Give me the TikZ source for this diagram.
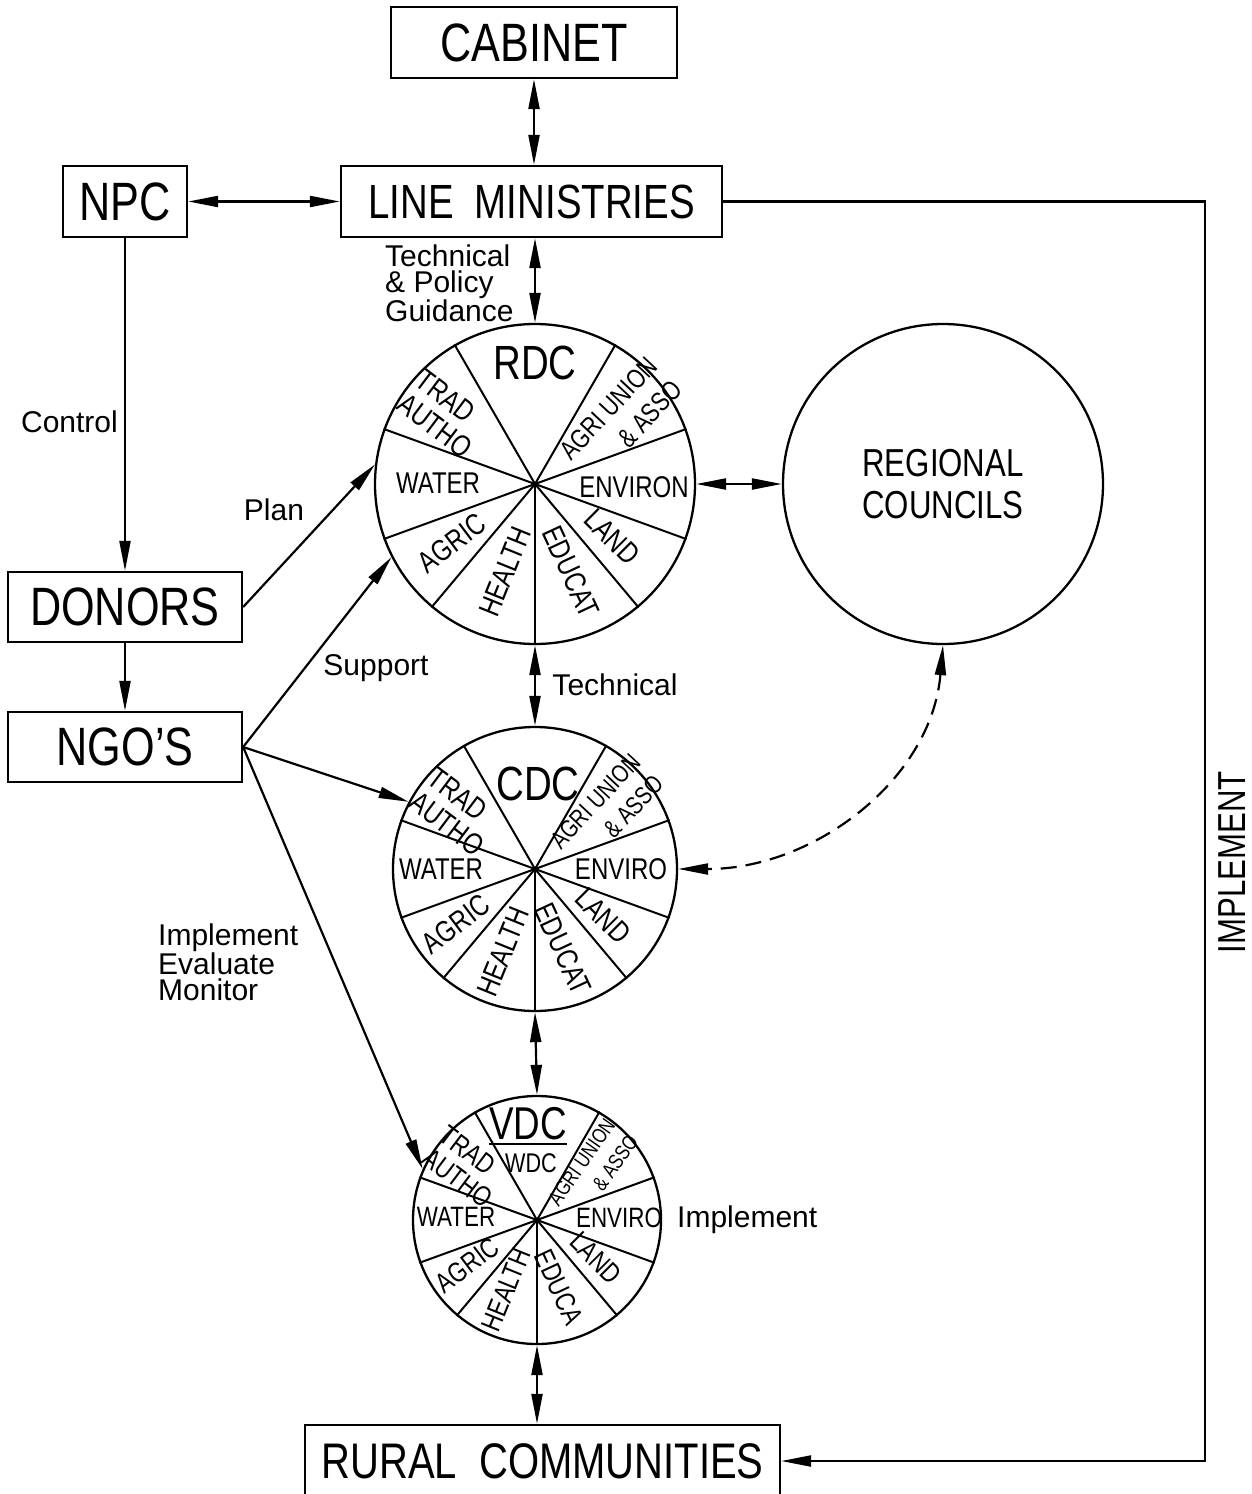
\documentclass[tikz,border=0pt]{standalone}
\usepackage{fontspec}
\setmainfont{Liberation Sans}
\newfontfamily\capfont{Liberation Sans}[FakeStretch=0.8]
\usetikzlibrary{arrows.meta}
\tikzset{
  box/.style={draw, line width=2.3pt, inner sep=0pt,
    font=\capfont\fontsize{54}{54}\selectfont},
  wheel/.style={draw, circle, line width=2.3pt, inner sep=0pt},
  spoke/.style={line width=2pt},
  sector/.style={inner sep=0pt, align=center,
    font=\capfont\fontsize{30}{30}\selectfont},
  small sector/.style={inner sep=0pt, align=center,
    font=\capfont\fontsize{28}{28}\selectfont},
  note/.style={inner sep=0pt, align=left, font=\fontsize{30}{26}\selectfont},
  link/.style={line width=2.2pt, -{Triangle[length=30pt,width=11pt]}},
  twoway/.style={line width=2.2pt,
    {Triangle[length=30pt,width=11pt]}-{Triangle[length=30pt,width=11pt]}}
}

\begin{document}
\begin{tikzpicture}[x=1pt,y=1pt]
  \useasboundingbox (0,0) rectangle (1252,-1494);

  % boxes
  \node[box, minimum width=286pt, minimum height=71pt] (cabinet) at (534,-42.5) {CABINET};
  \node[box, minimum width=124pt, minimum height=71pt] (npc) at (125,-201.5) {NPC};
  \node[box, minimum width=381pt, minimum height=71pt,
    font=\capfont\fontsize{48}{48}\selectfont] (lineministries) at (531.5,-201.5) {LINE\ \ MINISTRIES};
  \node[box, minimum width=234pt, minimum height=70pt] (donors) at (125,-607) {DONORS};
  \node[box, minimum width=234pt, minimum height=70pt] (ngos) at (125,-747) {NGO’S};
  \node[box, minimum width=475pt, minimum height=72pt,
    font=\capfont\fontsize{50}{50}\selectfont] (rural) at (542.5,-1461) {RURAL\ \ COMMUNITIES};

  % wheels
  \node[wheel, minimum size=320pt] (rdc) at (535,-484) {};
  \node[wheel, minimum size=284pt] (cdc) at (535,-869) {};
  \node[wheel, minimum size=248pt] (vdc) at (537,-1220) {};
  \node[wheel, minimum size=320pt, align=center,
    font=\capfont\fontsize{39}{42}\selectfont] (regional) at (943,-484) {REGIONAL\\COUNCILS};

  \foreach \w in {rdc,cdc,vdc}
    \foreach \a in {20,60,120,160,200,230,270,310,340}
      \draw[spoke] (\w.center) -- (\w.\a);

  % RDC sectors
  \node[sector, font=\capfont\fontsize{48}{48}\selectfont] (rdctitle) at ([shift={(0,121)}]rdc.center) {RDC};
  \node[sector, align=left, rotate=-37] (rdctrad) at ([shift={(-91,70)}]rdc.center) {TRAD\\AUTHO};
  \node[sector] (rdcwater) at ([shift={(-97,1)}]rdc.center) {WATER};
  \node[sector, rotate=37] (rdcagric) at ([shift={(-83,-59)}]rdc.center) {AGRIC};
  \node[sector, rotate=68] (rdchealth) at ([shift={(-30,-88)}]rdc.center) {HEALTH};
  \node[sector, rotate=-65] (rdceducat) at ([shift={(36,-88)}]rdc.center) {EDUCAT};
  \node[sector, rotate=-45] (rdcland) at ([shift={(77,-53)}]rdc.center) {LAND};
  \node[sector] (rdcenviron) at ([shift={(99,-3)}]rdc.center) {ENVIRON};
  \node[sector, align=right, rotate=47, font=\capfont\fontsize{27}{34}\selectfont]
    (rdcagri) at ([shift={(86,64)}]rdc.center) {AGRI UNION\\\& ASSO};

  % CDC sectors
  \node[sector, font=\capfont\fontsize{48}{48}\selectfont] (cdctitle) at ([shift={(3,85)}]cdc.center) {CDC};
  \node[sector, align=left, rotate=-37] (cdctrad) at ([shift={(-79,57)}]cdc.center) {TRAD\\AUTHO};
  \node[sector] (cdcwater) at ([shift={(-94,0)}]cdc.center) {WATER};
  \node[sector, rotate=37] (cdcagric) at ([shift={(-79,-55)}]cdc.center) {AGRIC};
  \node[sector, rotate=68] (cdchealth) at ([shift={(-32,-83)}]cdc.center) {HEALTH};
  \node[sector, rotate=-65] (cdceducat) at ([shift={(28,-80)}]cdc.center) {EDUCAT};
  \node[sector, rotate=-45] (cdcland) at ([shift={(68,-47)}]cdc.center) {LAND};
  \node[sector] (cdcenviro) at ([shift={(86,0)}]cdc.center) {ENVIRO};
  \node[sector, align=right, rotate=47, font=\capfont\fontsize{25}{32}\selectfont]
    (cdcagri) at ([shift={(72,57)}]cdc.center) {AGRI UNION\\\& ASSO};

  % VDC sectors
  \node[sector, font=\capfont\fontsize{46}{46}\selectfont] (vdctitle) at ([shift={(-9,96)}]vdc.center) {VDC};
  \node[sector, font=\capfont\fontsize{27}{27}\selectfont] (wdctitle) at ([shift={(-6,57)}]vdc.center) {WDC};
  \draw[line width=2pt] ([yshift=-4pt]vdctitle.south west) -- ([yshift=-4pt]vdctitle.south east);
  \node[small sector, align=left, rotate=-37] (vdctrad) at ([shift={(-71,53)}]vdc.center) {TRAD\\AUTHO};
  \node[small sector] (vdcwater) at ([shift={(-81,3)}]vdc.center) {WATER};
  \node[small sector, rotate=37] (vdcagric) at ([shift={(-70,-45)}]vdc.center) {AGRIC};
  \node[small sector, rotate=68] (vdchealth) at ([shift={(-31,-70)}]vdc.center) {HEALTH};
  \node[small sector, rotate=-65] (vdceduca) at ([shift={(22,-67)}]vdc.center) {EDUCA};
  \node[small sector, rotate=-45] (vdcland) at ([shift={(59,-38)}]vdc.center) {LAND};
  \node[small sector] (vdcenviro) at ([shift={(82,2)}]vdc.center) {ENVIRO};
  \node[small sector, align=right, rotate=55, font=\capfont\fontsize{21}{28}\selectfont]
    (vdcagri) at ([shift={(56,50)}]vdc.center) {AGRI UNION\\\& ASSO};

  % connectors
  \draw[twoway] (cabinet.south) -- (cabinet.south |- lineministries.north);
  \draw[twoway] (npc.east) -- (lineministries.west);
  \draw[twoway] (rdc.north |- lineministries.south) -- (rdc.north);
  \draw[link] (npc.south) -- (donors.north);
  \draw[link] (donors.south) -- (ngos.north);
  \draw[link] (donors.east) -- (rdc.173);
  \draw[link] (ngos.east) -- (rdc.207);
  \draw[link] (ngos.east) -- (cdc.152);
  \draw[link] (ngos.east) -- (vdc.156);
  \draw[twoway] (rdc.south) -- (cdc.north);
  \draw[twoway] (cdc.south) -- (vdc.north);
  \draw[twoway] (vdc.south) -- (vdc.south |- rural.north);
  \draw[twoway] (rdc.east) -- (regional.west);
  \draw[twoway, dash pattern=on 16pt off 9pt] (regional.south) to[out=-95,in=0] (cdc.east);
  \coordinate (bend) at (1205,-201.5);
  \draw[link] (lineministries.east) -- (bend) |- (rural.east);

  % labels
  \node[note, anchor=west] (guidance) at (385,-283) {Technical\\\& Policy\\Guidance};
  \node[note, anchor=east] (control) at (118,-422) {Control};
  \node[note] (plan) at (274,-510) {Plan};
  \node[note] (support) at (376,-668) {Support};
  \node[note] (technical) at (615,-685) {Technical};
  \node[note, anchor=west] (iem) at (158,-962) {Implement\\Evaluate\\Monitor};
  \node[note, anchor=west] (vdcimplement) at (677,-1220) {Implement};
  \node[inner sep=0pt, rotate=90, font=\capfont\fontsize{39}{39}\selectfont] (implement) at (1232,-862) {IMPLEMENT};
\end{tikzpicture}
\end{document}
